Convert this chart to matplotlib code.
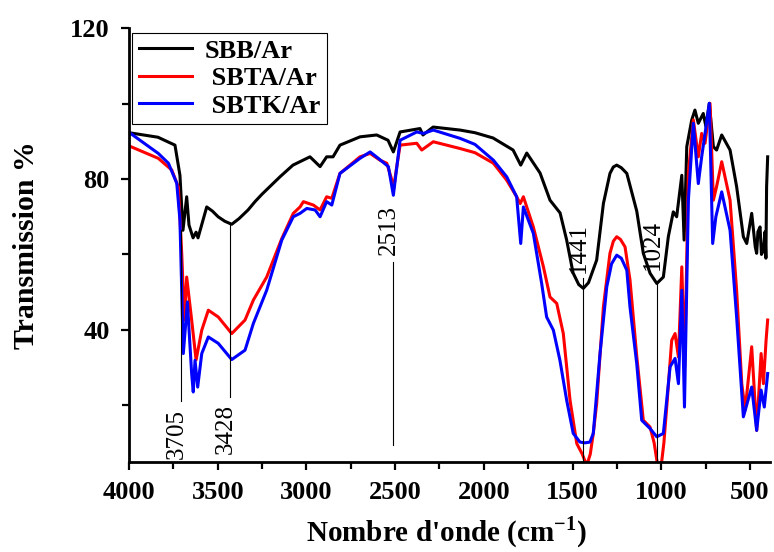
import matplotlib
matplotlib.use('Agg')
import matplotlib.pyplot as plt
from matplotlib.ticker import MultipleLocator

# FTIR spectra (wavenumber cm-1, transmission %)
wn_sbb = [4000, 3837, 3741, 3713, 3696, 3675, 3662, 3639, 3622, 3611, 3562, 3530,
          3498, 3460, 3421, 3380, 3329, 3290, 3250, 3149, 3076, 2980, 2923, 2886,
          2850, 2811, 2698, 2604, 2540, 2510, 2472, 2360, 2343, 2286, 2134, 2050,
          1948, 1835, 1792, 1758, 1683, 1627, 1570, 1533, 1497, 1465, 1439, 1410,
          1364, 1326, 1289, 1270, 1251, 1225, 1194, 1138, 1101, 1063, 1025, 988,
          960, 932, 913, 884, 871, 856, 828, 810, 791, 763, 748, 729, 706, 688,
          659, 612, 575, 537, 518, 490, 470, 462, 455, 443, 435, 424, 415, 410,
          406, 400]
t_sbb = [92.3, 91.1, 89.0, 81.0, 66.4, 75.3, 67.8, 64.4, 65.9, 64.4, 72.6, 71.5,
         70.0, 68.8, 68.0, 69.5, 71.8, 74.0, 76.0, 80.6, 83.7, 85.9, 83.3, 85.9,
         85.9, 89.0, 91.2, 91.7, 90.3, 87.2, 92.5, 93.4, 91.7, 93.8, 93.0, 92.3,
         90.9, 87.7, 83.7, 86.9, 81.6, 74.4, 71.0, 63.8, 55.1, 52.0, 51.0, 52.5,
         58.5, 73.5, 81.5, 83.2, 83.7, 83.0, 81.5, 71.5, 60.3, 55.0, 52.3, 54.0,
         64.7, 71.3, 70.0, 81.0, 63.8, 88.6, 95.7, 98.3, 94.8, 97.4, 93.9, 100.1,
         88.6, 87.7, 91.7, 87.7, 78.0, 64.7, 62.9, 70.9, 62.0, 60.3, 66.0, 67.3,
         60.0, 61.1, 66.0, 59.0, 78.0, 85.9]

wn_sbta = [4000, 3835, 3759, 3722, 3703, 3688, 3675, 3647, 3622, 3590, 3553, 3497,
           3421, 3346, 3299, 3224, 3139, 3074, 3036, 3017, 2961, 2923, 2886, 2857,
           2811, 2698, 2641, 2585, 2547, 2520, 2510, 2495, 2472, 2378, 2350, 2285,
           2134, 2050, 1946, 1871, 1815, 1795, 1777, 1721, 1664, 1627, 1589, 1552,
           1514, 1476, 1445, 1420, 1400, 1383, 1364, 1326, 1289, 1270, 1251, 1230,
           1204, 1176, 1138, 1101, 1063, 1040, 1020, 1000, 985, 969, 941, 922, 903,
           884, 868, 847, 819, 791, 772, 753, 725, 706, 688, 659, 612, 575, 546,
           527, 490, 462, 437, 424, 409, 400]
t_sbta = [88.8, 85.5, 82.4, 77.9, 60.3, 42.6, 54.0, 42.6, 32.0, 39.9, 45.2, 43.4,
          39.0, 42.6, 47.9, 54.0, 64.2, 70.9, 72.6, 74.0, 73.1, 71.8, 75.3, 74.9,
          81.5, 85.9, 86.8, 85.0, 84.2, 80.0, 77.0, 82.0, 89.0, 89.5, 87.7, 89.9,
          88.1, 87.0, 84.2, 79.7, 75.3, 73.5, 75.3, 67.3, 56.7, 48.7, 47.0, 39.0,
          21.3, 9.8, 7.0, 4.0, 7.0, 12.5, 20.4, 46.1, 60.3, 63.5, 64.7, 64.0,
          62.0, 53.2, 33.0, 16.0, 14.2, 10.0, 4.0, 4.0, 10.0, 19.5, 37.2, 39.0,
          32.8, 56.7, 30.0, 81.5, 95.7, 85.9, 92.1, 89.5, 100.1, 74.4, 78.0, 84.6,
          74.4, 50.5, 25.7, 18.7, 35.5, 13.3, 33.7, 25.7, 37.2, 42.6]

wn_sbtk = [4000, 3835, 3778, 3731, 3713, 3694, 3671, 3647, 3638, 3628, 3613, 3590,
           3553, 3497, 3421, 3346, 3299, 3224, 3139, 3074, 3036, 2998, 2951, 2923,
           2886, 2857, 2811, 2698, 2641, 2595, 2538, 2510, 2472, 2378, 2341, 2285,
           2134, 2050, 1946, 1871, 1815, 1792, 1777, 1721, 1674, 1646, 1608, 1571,
           1533, 1496, 1458, 1430, 1402, 1383, 1345, 1307, 1280, 1251, 1225, 1194,
           1176, 1138, 1110, 1063, 1025, 988, 950, 922, 903, 884, 869, 847, 819,
           791, 772, 753, 729, 710, 692, 659, 612, 575, 537, 490, 462, 437, 419, 400]
t_sbtk = [92.4, 86.8, 84.2, 78.9, 69.1, 33.7, 47.4, 28.4, 23.5, 31.9, 24.8, 33.7,
          38.1, 36.4, 32.1, 34.6, 41.7, 50.5, 63.8, 70.0, 70.9, 72.2, 71.8, 70.0,
          74.0, 73.1, 81.5, 85.5, 87.2, 85.5, 83.3, 75.7, 90.3, 92.5, 92.1, 93.0,
          90.8, 89.2, 85.0, 80.6, 75.3, 62.9, 72.6, 65.6, 52.3, 43.4, 39.9, 31.9,
          21.3, 12.5, 10.2, 10.0, 10.2, 12.5, 33.7, 51.4, 57.5, 59.8, 59.0, 55.8,
          46.0, 31.0, 16.0, 13.8, 11.6, 12.5, 30.2, 32.4, 25.7, 50.5, 19.5, 74.4,
          94.8, 78.8, 85.9, 92.1, 100.1, 62.9, 70.0, 76.6, 66.4, 43.4, 16.9, 24.8,
          13.3, 24.0, 19.5, 28.4]

# marked bands: label, top and bottom of the guide line
peaks = [3705, 3428, 2513, 1441, 1024]
peak_top = [66.4, 67.8, 58.0, 53.7, 52.4]
peak_bot = [21.2, 22.1, 9.4, 5.0, 5.0]
peak_txt_y = [12.4, 13.6, 66.4, 61.7, 62.5]

plt.rcParams['font.family'] = ['Liberation Serif', 'DejaVu Serif']
plt.rcParams['font.weight'] = 'bold'
plt.rcParams['mathtext.fontset'] = 'custom'
plt.rcParams['mathtext.rm'] = 'Liberation Serif:bold'
plt.rcParams['mathtext.bf'] = 'Liberation Serif:bold'

fig = plt.figure(figsize=(7.74, 5.52), dpi=100)
ax = fig.add_axes([0.1667, 0.1636, 0.8281, 0.7851])

ax.plot(wn_sbb, t_sbb, color='black', lw=2.2, label='SBB/Ar')
ax.plot(wn_sbta, t_sbta, color='red', lw=2.2, label=' SBTA/Ar')
ax.plot(wn_sbtk, t_sbtk, color='blue', lw=2.2, label=' SBTK/Ar')

for i in range(len(peaks)):
    ax.plot([peaks[i], peaks[i]], [peak_bot[i], peak_top[i]], color='black', lw=0.8)
    ax.text(peaks[i] + 25, peak_txt_y[i], str(peaks[i]), rotation=90,
            ha='center', va='center', fontsize=18, fontweight='normal')

ax.set_xlim(4000, 387)
ax.set_ylim(5, 120)
ax.xaxis.set_major_locator(MultipleLocator(500))
ax.xaxis.set_minor_locator(MultipleLocator(250))
ax.yaxis.set_major_locator(MultipleLocator(40))
ax.yaxis.set_minor_locator(MultipleLocator(20))
ax.tick_params(which='both', direction='out', width=1.6, labelsize=19)
ax.tick_params(which='major', length=6, pad=8)
ax.tick_params(which='minor', length=5)
for lab in ax.get_xticklabels() + ax.get_yticklabels():
    lab.set_fontweight('bold')

ax.spines['top'].set_visible(False)
ax.spines['right'].set_visible(False)
ax.spines['left'].set_linewidth(2)
ax.spines['bottom'].set_linewidth(2)

fig.text(0.034, 0.556, 'Transmission %', rotation=90, ha='center', va='center',
         fontsize=21.5, fontweight='bold')
fig.text(0.577, 0.035, "Nombre d'onde (cm$^{-1}$)", ha='center', va='center',
         fontsize=21, fontweight='bold')

leg = ax.legend(loc='upper left', bbox_to_anchor=(0.005, 0.99), borderaxespad=0,
                fontsize=19, frameon=True, fancybox=False, edgecolor='black',
                framealpha=1, handlelength=2.0, handletextpad=0.5,
                labelspacing=0.15, borderpad=0.25)
leg.get_frame().set_linewidth(0.8)
for t in leg.get_texts():
    t.set_fontweight('bold')

fig.savefig('out.png', dpi=100)
